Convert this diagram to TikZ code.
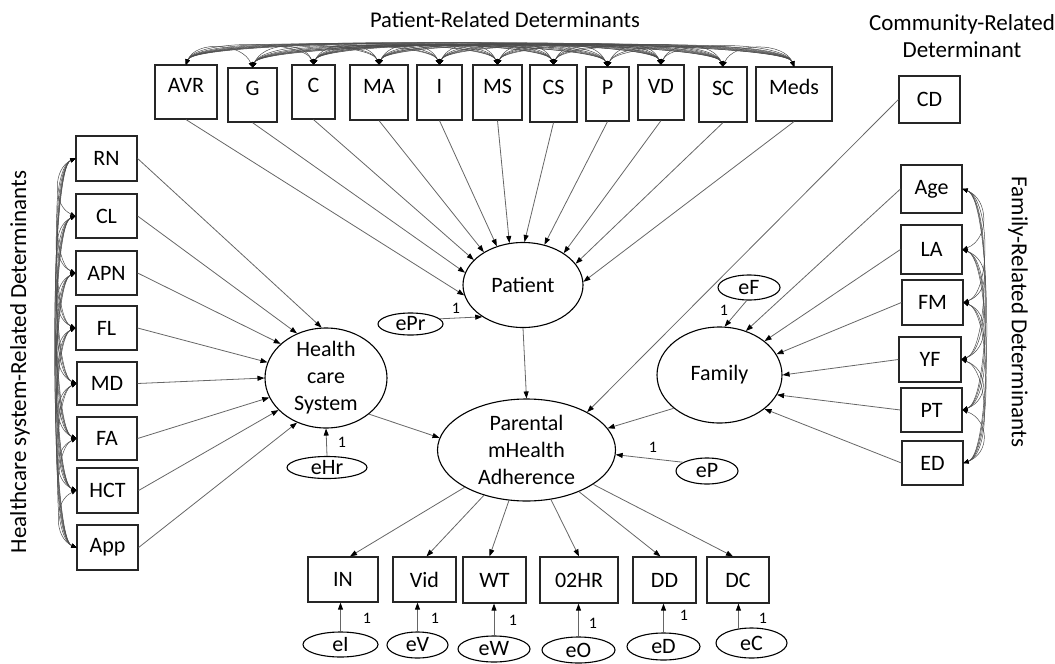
\documentclass[tikz,border=0pt]{standalone}
\usepackage{fontspec}
\setmainfont{Carlito}
\usetikzlibrary{shapes.geometric,arrows.meta,calc}
\begin{document}
\begin{tikzpicture}[x=1pt,y=-1pt,
  every node/.style={font=\fontsize{22}{27}\selectfont},
  sz/.style 2 args={minimum width=#1pt,minimum height=#2pt},
  box/.style={draw=black!85,line width=1.2pt,rectangle,inner sep=0pt},
  topbox/.style={box,text height=16pt,text depth=15pt},
  lat/.style={draw=black,line width=1.1pt,ellipse,inner sep=0pt},
  arr/.style={draw=black!60,line width=0.8pt,-{Triangle[length=7pt,width=5pt,color=black]}},
  cov/.style={draw=black!70,line width=0.5pt,
    {Triangle[length=5pt,width=4pt,color=black]}-{Triangle[length=5pt,width=4pt,color=black]}},
  one/.style={font=\fontsize{16}{18}\selectfont,inner sep=1pt},
  grouptitle/.style={font=\fontsize{23}{27}\selectfont,align=center}
]
\useasboundingbox (0,0) rectangle (1055,664);

% group titles
\node[grouptitle,font=\fontsize{22.5}{27}\selectfont] (ptTitle) at (505,20) {Patient-Related Determinants};
\node[grouptitle] (cdTitle) at (962,36) {Community-Related\\Determinant};
\node[grouptitle,rotate=90] (hcTitle) at (20,362) {Healthcare system-Related Determinants};
\node[grouptitle,rotate=-90] (fmTitle) at (1018,312) {Family-Related Determinants};

% patient-related observed variables
\node[topbox,sz={62}{54}] (t1) at (186,92) {AVR};
\node[topbox,sz={49}{54}] (t2) at (252.5,95) {G};
\node[topbox,sz={43}{54}] (t3) at (313.5,92) {C};
\node[topbox,sz={58}{55}] (t4) at (379,92.5) {MA};
\node[topbox,sz={45}{55}] (t5) at (439.5,92.5) {I};
\node[topbox,sz={49}{55}] (t6) at (497.5,92.5) {MS};
\node[topbox,sz={47}{57}] (t7) at (553.5,93.5) {CS};
\node[topbox,sz={43}{54}] (t8) at (607.5,94) {P};
\node[topbox,sz={46}{55}] (t9) at (661,92.5) {VD};
\node[topbox,sz={48}{55}] (t10) at (723,94.5) {SC};
\node[topbox,sz={76}{54}] (t11) at (794,94) {Meds};

% community-related
\node[box,sz={61}{47}] (CD) at (929.5,99.5) {CD};

% healthcare system-related
\node[box,sz={61}{45}] (l1) at (106.5,158.5) {RN};
\node[box,sz={61}{44}] (l2) at (106.5,216) {CL};
\node[box,sz={61}{44}] (l3) at (106.5,273) {APN};
\node[box,sz={61}{44}] (l4) at (106.5,328) {FL};
\node[box,sz={60}{43}] (l5) at (107,383.5) {MD};
\node[box,sz={60}{43}] (l6) at (107,438.5) {FA};
\node[box,sz={61}{45}] (l7) at (107.5,490.5) {HCT};
\node[box,sz={61}{45}] (l8) at (107.5,547.5) {App};

% family-related
\node[box,sz={61}{48}] (r1) at (931.5,189) {Age};
\node[box,sz={61}{49}] (r2) at (931.5,249.5) {LA};
\node[box,sz={61}{45}] (r3) at (932.5,302.5) {FM};
\node[box,sz={62}{45}] (r4) at (930,359.5) {YF};
\node[box,sz={61}{44}] (r5) at (931.5,410) {PT};
\node[box,sz={61}{44}] (r6) at (932.5,463) {ED};

% adherence indicators
\node[box,sz={70}{45}] (IN) at (343,579.5) {IN};
\node[box,sz={63}{45}] (Vid) at (424.5,579.5) {Vid};
\node[box,sz={63}{46}] (WT) at (494.5,580) {WT};
\node[box,sz={78}{46}] (OHR) at (579,580) {02HR};
\node[box,sz={63}{46}] (DD) at (664.5,580) {DD};
\node[box,sz={62}{46}] (DC) at (738,580) {DC};

% latent variables
\node[lat,sz={120}{85},label={center:Patient}] (Patient) at (523,285) {};
\node[lat,sz={178}{102},label={[align=center]center:Parental\\mHealth\\Adherence}] (Parental) at (526.5,450) {};
\node[lat,sz={122}{100},label={[align=center]center:Health\\care\\System}] (Health) at (326,378) {};
\node[lat,sz={125}{96},label={center:Family}] (Family) at (719.5,375) {};

% error terms
\node[lat,sz={65}{22},label={center:ePr}] (ePr) at (410.5,324) {};
\node[lat,sz={80}{22},label={center:eHr}] (eHr) at (327,467.5) {};
\node[lat,sz={62}{25},label={center:eF}] (eF) at (749,287.5) {};
\node[lat,sz={62}{26},label={center:eP}] (eP) at (707,471) {};
\node[lat,sz={75}{25},label={center:eI}] (eI) at (340.5,644.5) {};
\node[lat,sz={61}{26},label={center:eV}] (eV) at (417.5,645) {};
\node[lat,sz={72}{26},label={center:eW}] (eW) at (494,649) {};
\node[lat,sz={73}{26},label={center:eO}] (eO) at (578.5,650) {};
\node[lat,sz={73}{27},label={center:eD}] (eD) at (663.5,646.5) {};
\node[lat,sz={71}{30},label={center:eC}] (eC) at (751.5,643) {};

% covariances among patient-related variables
\foreach \i in {1,...,10}{
  \pgfmathtruncatemacro\ii{\i+1}
  \foreach \j in {\ii,...,11}{
    \pgfmathsetmacro\h{-24-0.5*(\j-\i)}
    \draw[cov] (t\i.north) .. controls ($(t\i.north)+(10,\h)$) and ($(t\j.north)+(-10,\h)$) .. (t\j.north);
  }
}
% covariances among healthcare system-related variables
\foreach \i in {1,...,7}{
  \pgfmathtruncatemacro\ii{\i+1}
  \foreach \j in {\ii,...,8}{
    \pgfmathsetmacro\h{-22-0.7*(\j-\i)}
    \draw[cov] (l\i.west) .. controls ($(l\i.west)+(\h,10)$) and ($(l\j.west)+(\h,-10)$) .. (l\j.west);
  }
}
% covariances among family-related variables
\foreach \i in {1,...,5}{
  \pgfmathtruncatemacro\ii{\i+1}
  \foreach \j in {\ii,...,6}{
    \pgfmathsetmacro\h{26+0.8*(\j-\i)}
    \draw[cov] (r\i.east) .. controls ($(r\i.east)+(\h,10)$) and ($(r\j.east)+(\h,-10)$) .. (r\j.east);
  }
}

% paths into Patient
\foreach \i/\a in {1/190,2/168,3/153,4/140,5/124,6/108,7/88,8/62,9/38,10/22,11/3}
  \draw[arr] (t\i.south) -- (Patient.\a);
% paths into Health care System
\foreach \i/\a in {1/95,2/123,3/143,4/165,5/180,6/199,7/214,8/237}
  \draw[arr] (l\i.east) -- (Health.\a);
% paths into Family
\foreach \i/\a in {1/59,2/37,3/20,4/0,5/-19,6/-37}
  \draw[arr] (r\i.west) -- (Family.\a);

% structural paths
\draw[arr] (Patient.south) -- (Parental.north);
\draw[arr] (Health.-40) -- (Parental.172);
\draw[arr] (Family.216) -- (Parental.15);
\draw[arr] (CD.west) -- (Parental.32);

% measurement paths
\draw[arr] (Parental) -- ($(IN.north)+(7,0)$);
\draw[arr] (Parental) -- ($(Vid.north)+(2,0)$);
\draw[arr] (Parental) -- ($(WT.north)+(-5,0)$);
\draw[arr] (Parental) -- (OHR.north);
\draw[arr] (Parental) -- ($(DD.north)+(-4,0)$);
\draw[arr] (Parental) -- ($(DC.north)+(-5,0)$);

% error terms
\draw[arr] (ePr.10) -- (Patient.218);
\draw[arr] (eHr.north) -- (Health.south);
\draw[arr] (eF.-100) -- (Family.84);
\draw[arr] (eP.160) -- (Parental.-3);
\draw[arr] (eI.north) -- (eI.north |- IN.south);
\draw[arr] (eV.north) -- (eV.north |- Vid.south);
\draw[arr] (eW.north) -- (eW.north |- WT.south);
\draw[arr] (eO.north) -- (eO.north |- OHR.south);
\draw[arr] (eD.north) -- (eD.north |- DD.south);
\draw[arr] (eC.132) -- (eC.132 |- DC.south);

% regression weights fixed to 1
\node[one] (w1) at (456,308) {1};
\node[one] (w2) at (342,442) {1};
\node[one] (w3) at (724,310) {1};
\node[one] (w4) at (653,447) {1};
\node[one] (w5) at (367,618) {1};
\node[one] (w6) at (435,618) {1};
\node[one] (w7) at (513,620) {1};
\node[one] (w8) at (593,623) {1};
\node[one] (w9) at (684,615) {1};
\node[one] (w10) at (763,618) {1};
\end{tikzpicture}
\end{document}
